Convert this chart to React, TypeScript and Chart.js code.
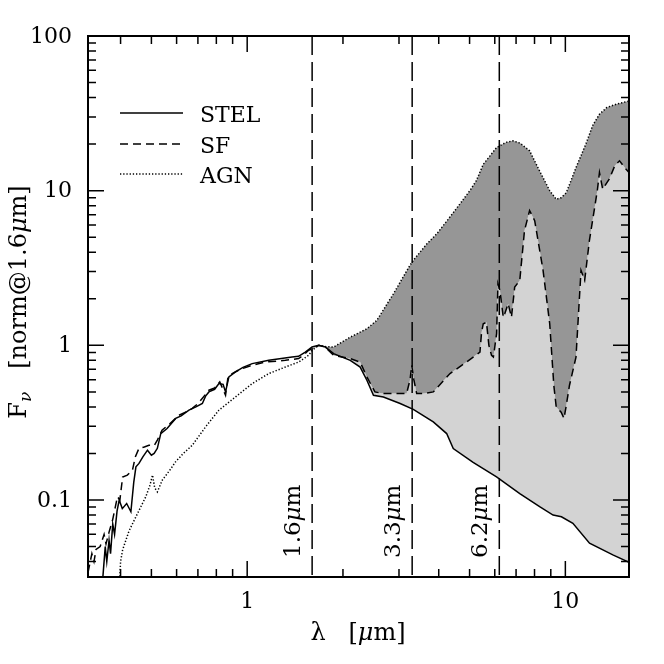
import React, { useEffect, useRef } from "react";
import { Chart, registerables } from "chart.js";
Chart.register(...registerables);

// ---- data (wavelength in micron, flux normalised at 1.6 micron) ----
const stelLambda = [0.352, 0.358, 0.362, 0.368, 0.372, 0.378, 0.383, 0.39, 0.396, 0.405, 0.418, 0.431, 0.44, 0.447, 0.457, 0.47, 0.486, 0.5, 0.51, 0.522, 0.535, 0.56, 0.596, 0.62, 0.656, 0.69, 0.723, 0.74, 0.758, 0.79, 0.815, 0.84, 0.855, 0.876, 0.919, 0.97, 1.037, 1.169, 1.384, 1.45, 1.523, 1.599, 1.677, 1.76, 1.869, 2.108, 2.265, 2.378, 2.494, 2.68, 3.025, 3.327, 3.845, 4.236, 4.443, 5.13, 6.077, 7.19, 8.3, 9.15, 9.72, 10.56, 11.91, 14.1, 15.85];
const stelFlux = [0.032, 0.05, 0.04, 0.055, 0.045, 0.07, 0.06, 0.085, 0.1, 0.088, 0.095, 0.084, 0.13, 0.164, 0.1725, 0.19, 0.21, 0.195, 0.2, 0.216, 0.269, 0.29, 0.337, 0.35, 0.381, 0.4, 0.421, 0.47, 0.5, 0.52, 0.566, 0.56, 0.5, 0.625, 0.673, 0.72, 0.762, 0.8, 0.84, 0.85, 0.905, 0.975, 1.0, 0.975, 0.884, 0.8, 0.724, 0.595, 0.476, 0.464, 0.421, 0.386, 0.32, 0.269, 0.215, 0.175, 0.141, 0.11, 0.0905, 0.08, 0.078, 0.0707, 0.0526, 0.0442, 0.0395];

const sfLambda = [0.316, 0.325, 0.33, 0.335, 0.345, 0.355, 0.36, 0.368, 0.378, 0.385, 0.391, 0.398, 0.406, 0.42, 0.436, 0.445, 0.457, 0.475, 0.491, 0.51, 0.522, 0.54, 0.57, 0.61, 0.64, 0.672, 0.7, 0.72, 0.758, 0.79, 0.82, 0.855, 0.87, 0.897, 0.95, 1.037, 1.141, 1.318, 1.451, 1.5, 1.56, 1.62, 1.68, 1.76, 1.869, 2.108, 2.265, 2.378, 2.52, 2.68, 3.025, 3.17, 3.25, 3.29, 3.34, 3.41, 3.58, 3.845, 4.34, 4.89, 5.39, 5.45, 5.52, 5.65, 5.75, 5.86, 5.94, 6.08, 6.14, 6.23, 6.38, 6.45, 6.61, 6.77, 6.93, 7.19, 7.44, 7.72, 8.01, 8.51, 8.93, 9.2, 9.36, 9.7, 9.9, 10.05, 10.3, 10.8, 11.2, 11.5, 11.9, 12.6, 12.8, 13.1, 13.75, 14.3, 14.8, 15.5, 15.85];
const sfFlux = [0.034, 0.045, 0.04, 0.048, 0.05, 0.06, 0.052, 0.062, 0.075, 0.09, 0.105, 0.1, 0.141, 0.145, 0.156, 0.19, 0.216, 0.22, 0.226, 0.225, 0.244, 0.283, 0.31, 0.353, 0.37, 0.391, 0.42, 0.45, 0.513, 0.53, 0.58, 0.476, 0.62, 0.657, 0.7, 0.743, 0.78, 0.8, 0.821, 0.86, 0.929, 0.96, 1.0, 0.975, 0.862, 0.821, 0.78, 0.625, 0.5, 0.488, 0.488, 0.488, 0.6, 0.743, 0.6, 0.488, 0.488, 0.5, 0.657, 0.78, 0.905, 1.2, 1.38, 1.41, 1.0, 0.862, 0.84, 1.19, 2.5, 2.26, 1.52, 1.6, 1.86, 1.52, 2.38, 2.63, 5.52, 7.43, 6.4, 3.05, 1.38, 0.55, 0.4, 0.37, 0.337, 0.4, 0.55, 0.84, 3.05, 2.63, 4.75, 10.0, 13.1, 10.25, 11.9, 14.5, 15.6, 13.8, 13.1];

const agnLambda = [0.398, 0.4, 0.406, 0.425, 0.447, 0.465, 0.48, 0.495, 0.504, 0.512, 0.522, 0.5415, 0.57, 0.596, 0.63, 0.672, 0.74, 0.815, 0.919, 1.037, 1.169, 1.318, 1.451, 1.56, 1.6, 1.677, 1.77, 1.869, 2.108, 2.378, 2.555, 2.88, 3.25, 3.327, 3.66, 3.94, 4.3, 4.66, 5.01, 5.25, 5.52, 6.08, 6.5, 6.84, 7.2, 7.72, 8.3, 8.93, 9.36, 9.7, 10.07, 10.8, 11.6, 12.2, 12.8, 13.5, 14.5, 15.85];
const agnFlux = [0.032, 0.04, 0.0476, 0.063, 0.078, 0.092, 0.105, 0.125, 0.145, 0.12, 0.113, 0.135, 0.155, 0.177, 0.2, 0.226, 0.297, 0.381, 0.464, 0.566, 0.657, 0.724, 0.78, 0.862, 0.93, 1.0, 0.98, 0.975, 1.13, 1.28, 1.45, 2.15, 3.3, 3.54, 4.5, 5.25, 6.6, 8.2, 10.0, 11.6, 14.8, 19.0, 20.5, 21.0, 20.3, 18.1, 13.4, 10.0, 8.8, 9.0, 9.7, 14.1, 20.0, 26.5, 31.2, 34.5, 36.3, 38.0];

const seriesNames = ["STEL", "SF", "AGN"];
const markerLambda = [1.6, 3.3, 6.2];
const markerText = ["1.6", "3.3", "6.2"];
const fillStartLambda = 1.6;

const xRange = [0.316, 15.85];
const yRange = [0.0318, 100];
const xMajorTicks = [1, 10];
const xMinorTicks = [0.4, 0.5, 0.6, 0.7, 0.8, 0.9, 2, 3, 4, 5, 6, 7, 8, 9];
const yMajorTicks = [0.1, 1, 10, 100];
const yMinorTicks = [0.04, 0.05, 0.06, 0.07, 0.08, 0.09, 0.2, 0.3, 0.4, 0.5, 0.6, 0.7, 0.8, 0.9, 2, 3, 4, 5, 6, 7, 8, 9, 20, 30, 40, 50, 60, 70, 80, 90];
const xTickLabels = ["1", "10"];
const yTickLabels = ["0.1", "1", "10", "100"];

// ---- styles ----
const FONT = '"DejaVu Serif", serif';
const DARK = "#969696";
const LIGHT = "#d3d3d3";
const DASH_SF = [8, 5];
const DASH_AGN = [1.3, 1.9];
const DASH_MARK = [19, 7];

const pts = (lx: number[], fy: number[]) => lx.map((v, i) => ({ x: v, y: fy[i] }));
const rightPart = (lx: number[], fy: number[]) => pts(lx, fy).filter((p) => p.x >= fillStartLambda);

type Run = { t: string; italic?: boolean; size?: number; dy?: number };
function drawRuns(ctx: CanvasRenderingContext2D, runs: Run[], x: number, y: number, base: number) {
  let cx = x;
  for (const r of runs) {
    const s = r.size || base;
    ctx.font = `${r.italic ? "italic " : ""}${s}px ${FONT}`;
    ctx.fillText(r.t, cx, y + (r.dy || 0));
    cx += ctx.measureText(r.t).width;
  }
  return cx - x;
}
function runsWidth(ctx: CanvasRenderingContext2D, runs: Run[], base: number) {
  let w = 0;
  for (const r of runs) {
    const s = r.size || base;
    ctx.font = `${r.italic ? "italic " : ""}${s}px ${FONT}`;
    w += ctx.measureText(r.t).width;
  }
  return w;
}

const framePlugin = {
  id: "frame",
  afterDraw(chart: any) {
    const ctx: CanvasRenderingContext2D = chart.ctx;
    const { left, right, top, bottom } = chart.chartArea;
    const xs = chart.scales.x;
    const ys = chart.scales.y;
    ctx.save();
    ctx.strokeStyle = "#000";
    ctx.fillStyle = "#000";
    ctx.setLineDash([]);
    // ticks
    ctx.lineWidth = 1.5;
    const xt = (v: number, len: number) => {
      const p = xs.getPixelForValue(v);
      ctx.beginPath();
      ctx.moveTo(p, bottom);
      ctx.lineTo(p, bottom - len);
      ctx.moveTo(p, top);
      ctx.lineTo(p, top + len);
      ctx.stroke();
    };
    const yt = (v: number, len: number) => {
      const p = ys.getPixelForValue(v);
      ctx.beginPath();
      ctx.moveTo(left, p);
      ctx.lineTo(left + len, p);
      ctx.moveTo(right, p);
      ctx.lineTo(right - len, p);
      ctx.stroke();
    };
    xMajorTicks.forEach((v) => xt(v, 16));
    xMinorTicks.forEach((v) => xt(v, 8));
    yMajorTicks.forEach((v) => yt(v, 16));
    yMinorTicks.forEach((v) => yt(v, 8));
    // frame
    ctx.lineWidth = 2;
    ctx.strokeRect(left, top, right - left, bottom - top);
    // tick labels
    ctx.font = `22px ${FONT}`;
    ctx.textAlign = "center";
    ctx.textBaseline = "alphabetic";
    xMajorTicks.forEach((v, i) => ctx.fillText(xTickLabels[i], xs.getPixelForValue(v), bottom + 31));
    ctx.textAlign = "right";
    ctx.textBaseline = "middle";
    yMajorTicks.forEach((v, i) => ctx.fillText(yTickLabels[i], left - 16, ys.getPixelForValue(v) + 1));
    // x title
    ctx.textAlign = "left";
    ctx.textBaseline = "alphabetic";
    const xRuns: Run[] = [{ t: "λ" }, { t: "   [" }, { t: "μ", italic: true }, { t: "m]" }];
    const xw = runsWidth(ctx, xRuns, 24);
    drawRuns(ctx, xRuns, 358 - xw / 2, 640, 24);
    // y title
    const yRuns: Run[] = [
      { t: "F" },
      { t: "ν", italic: true, size: 17, dy: 5 },
      { t: "   [norm@1.6" },
      { t: "μ", italic: true },
      { t: "m]" },
    ];
    const yw = runsWidth(ctx, yRuns, 24);
    ctx.save();
    ctx.translate(26, 302);
    ctx.rotate(-Math.PI / 2);
    drawRuns(ctx, yRuns, -yw / 2, 0, 24);
    ctx.restore();
    // marker labels
    markerLambda.forEach((v, i) => {
      const p = xs.getPixelForValue(v);
      ctx.save();
      ctx.translate(p - 12, bottom - 19);
      ctx.rotate(-Math.PI / 2);
      drawRuns(ctx, [{ t: markerText[i] }, { t: "μ", italic: true }, { t: "m" }], 0, 0, 23);
      ctx.restore();
    });
    // legend
    const dashes = [[], DASH_SF, DASH_AGN];
    const ly = [113, 144, 174];
    ctx.lineWidth = 1.5;
    seriesNames.forEach((n, i) => {
      ctx.setLineDash(dashes[i]);
      ctx.beginPath();
      ctx.moveTo(120, ly[i]);
      ctx.lineTo(183, ly[i]);
      ctx.stroke();
      ctx.setLineDash([]);
      ctx.font = `22px ${FONT}`;
      ctx.textAlign = "left";
      ctx.textBaseline = "alphabetic";
      ctx.fillText(n, 200, ly[i] + 9);
    });
    ctx.restore();
  },
};

export default function App() {
  const ref = useRef<HTMLCanvasElement | null>(null);
  useEffect(() => {
    document.body.style.margin = "0";
    const canvas = ref.current!;
    const lineBase = { pointRadius: 0, tension: 0, fill: false, borderColor: "#000", borderWidth: 1.5 };
    const markerSets = markerLambda.map((v) => ({
      ...lineBase,
      data: [
        { x: v, y: yRange[1] },
        { x: v, y: yRange[0] },
      ],
      borderDash: DASH_MARK,
    }));
    const chart = new Chart(canvas, {
      type: "line",
      data: {
        datasets: [
          { ...lineBase, label: seriesNames[0], data: pts(stelLambda, stelFlux) },
          { ...lineBase, label: seriesNames[1], data: pts(sfLambda, sfFlux), borderDash: DASH_SF },
          { ...lineBase, label: seriesNames[2], data: pts(agnLambda, agnFlux), borderDash: DASH_AGN },
          ...markerSets,
          { ...lineBase, borderWidth: 0, data: rightPart(agnLambda, agnFlux), fill: "+1", backgroundColor: DARK },
          { ...lineBase, borderWidth: 0, data: rightPart(sfLambda, sfFlux), fill: "+1", backgroundColor: LIGHT },
          { ...lineBase, borderWidth: 0, data: rightPart(stelLambda, stelFlux) },
        ] as any,
      },
      options: {
        animation: false,
        responsive: false,
        events: [],
        layout: { padding: { left: 88, right: 35, top: 36, bottom: 87 } },
        plugins: { legend: { display: false }, tooltip: { enabled: false }, title: { display: false } },
        scales: {
          x: {
            type: "logarithmic",
            bounds: "data",
            min: xRange[0],
            max: xRange[1],
            display: false,
            afterDataLimits: (s: any) => {
              s.min = xRange[0];
              s.max = xRange[1];
            },
            afterBuildTicks: (s: any) => {
              s.min = xRange[0];
              s.max = xRange[1];
            },
          },
          y: {
            type: "logarithmic",
            bounds: "data",
            min: yRange[0],
            max: yRange[1],
            display: false,
            afterDataLimits: (s: any) => {
              s.min = yRange[0];
              s.max = yRange[1];
            },
            afterBuildTicks: (s: any) => {
              s.min = yRange[0];
              s.max = yRange[1];
            },
          },
        } as any,
      },
      plugins: [framePlugin],
    });
    return () => chart.destroy();
  }, []);
  return (
    <div style={{ position: "absolute", left: 0, top: 0, width: 664, height: 664, background: "#fff" }}>
      <canvas ref={ref} width={664} height={664} style={{ display: "block" }} />
    </div>
  );
}
